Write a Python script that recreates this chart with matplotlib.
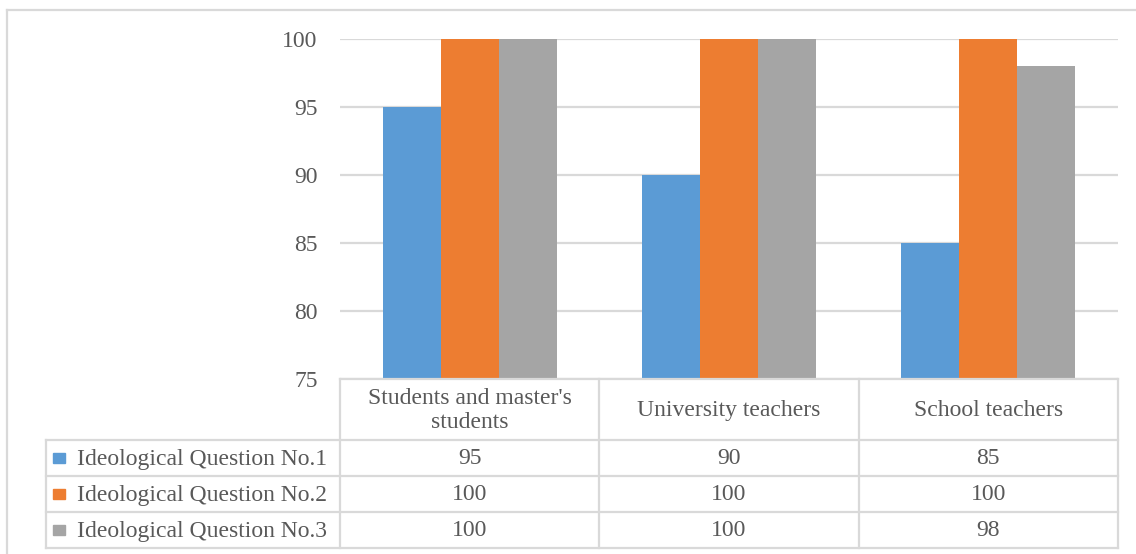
import numpy as np
import matplotlib.pyplot as plt
from matplotlib.lines import Line2D
from matplotlib.patches import Rectangle

plt.rcParams["font.family"] = "Liberation Serif"

categories = ["Students and master's\nstudents", "University teachers", "School teachers"]
series = ["Ideological Question No.1", "Ideological Question No.2", "Ideological Question No.3"]
q1 = [95, 90, 85]
q2 = [100, 100, 100]
q3 = [100, 100, 98]
colors = ["#5B9BD5", "#ED7D31", "#A5A5A5"]
yticks = [75, 80, 85, 90, 95, 100]

W, H = 1136, 554
fig = plt.figure(figsize=(W / 100, H / 100), dpi=100)
grid = "#D9D9D9"
txt = "#595959"


def fx(x):
    return x / W


def fy(y):
    return 1 - y / H


# plot area in pixels
L, R, T, B = 340, 1118, 39, 379
ax = fig.add_axes([fx(L), fy(B), fx(R) - fx(L), fy(T) - fy(B)])
x = np.arange(len(categories))
w = 0.224
for i, vals in enumerate([q1, q2, q3]):
    ax.bar(x + (i - 1) * w, np.array(vals) - 75, bottom=75, width=w,
           color=colors[i], zorder=3)
ax.set_xlim(-0.5, len(categories) - 0.5)
ax.set_ylim(75, 100)
ax.set_yticks(yticks)
ax.set_yticklabels([str(t) for t in yticks], fontsize=17, color=txt)
ax.tick_params(axis="y", length=0, pad=16)
ax.set_xticks([])
ax.grid(axis="y", color=grid, lw=1.6, zorder=0)
for s in ax.spines.values():
    s.set_visible(False)

# data table below the axes
def hline(x0, x1, y):
    fig.add_artist(Line2D([fx(x0), fx(x1)], [fy(y), fy(y)], color=grid, lw=1.6))


def vline(x, y0, y1):
    fig.add_artist(Line2D([fx(x), fx(x)], [fy(y0), fy(y1)], color=grid, lw=1.6))


col_edges = np.linspace(L, R, len(categories) + 1)
head_bot = 440
row_h = 36
rows_bot = head_bot + row_h * len(series)
hline(L, R, B)
hline(46, R, head_bot)
for k in range(1, len(series) + 1):
    hline(46, R, head_bot + k * row_h)
for c in col_edges:
    vline(c, B, rows_bot)
vline(46, head_bot, rows_bot)

fs = 17
for j, cat in enumerate(categories):
    cx = (col_edges[j] + col_edges[j + 1]) / 2
    fig.text(fx(cx), fy((B + head_bot) / 2 + 1), cat, ha="center", va="center",
             fontsize=fs, color=txt, linespacing=1.25)

for k, (name, vals) in enumerate(zip(series, [q1, q2, q3])):
    cy = head_bot + k * row_h + row_h / 2
    fig.add_artist(Rectangle((fx(53), fy(cy + 5)), fx(12), 10 / H,
                             color=colors[k], transform=fig.transFigure))
    fig.text(fx(77), fy(cy + 1), name, ha="left", va="center", fontsize=fs, color=txt)
    for j, v in enumerate(vals):
        cx = (col_edges[j] + col_edges[j + 1]) / 2
        fig.text(fx(cx), fy(cy + 1), str(v), ha="center", va="center",
                 fontsize=fs, color=txt)

# chart border
hline(7, W, 10)
vline(7, 10, H)

fig.savefig("out.png", dpi=100)
